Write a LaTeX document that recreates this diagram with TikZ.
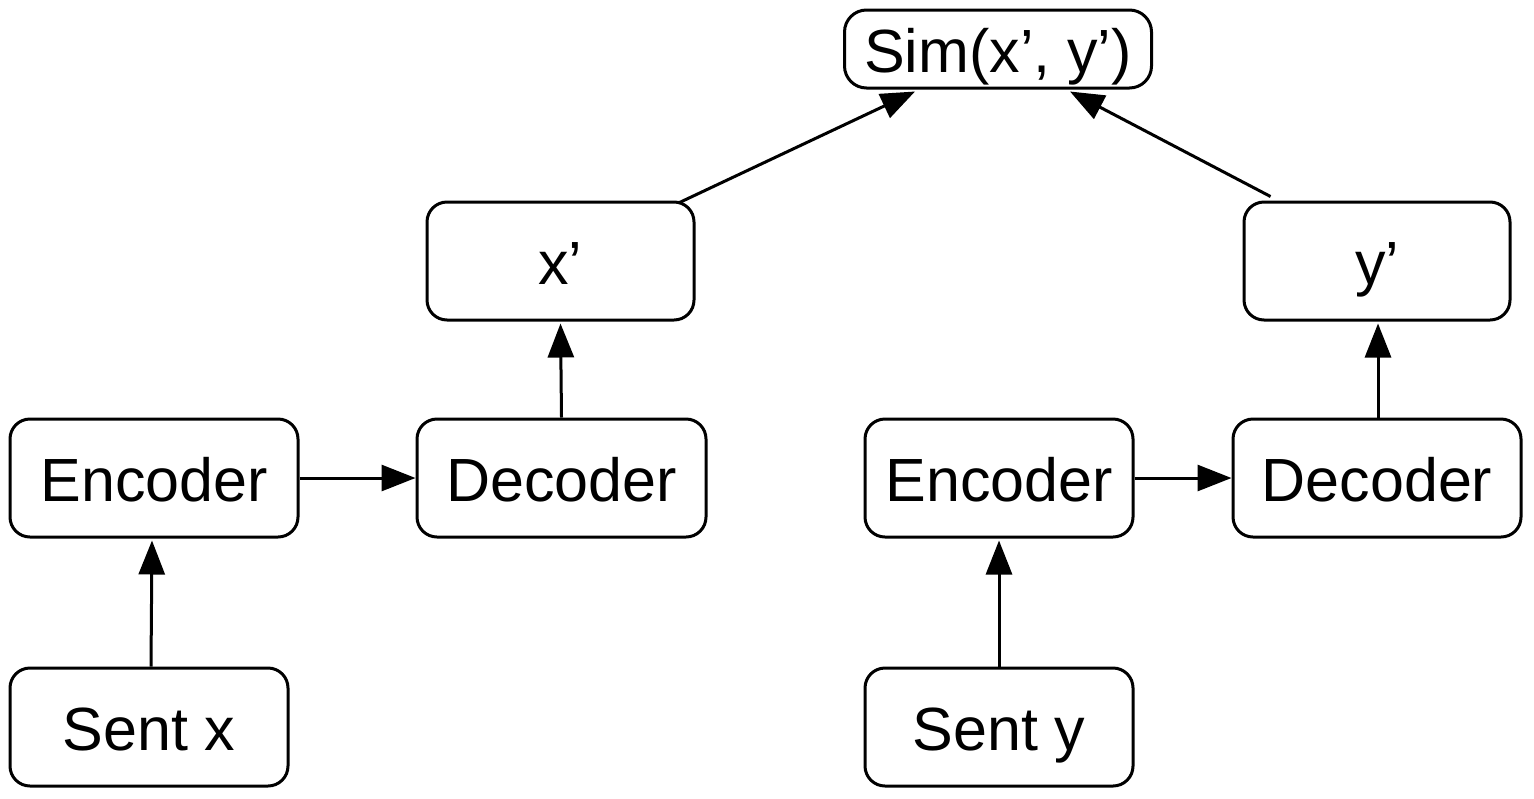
\documentclass[tikz,border=0pt]{standalone}
\usepackage{fontspec}
\setmainfont{Liberation Sans}
\usetikzlibrary{arrows.meta}
\begin{document}
\begin{tikzpicture}[x=0.5pt,y=-0.5pt,
  box/.style={draw, line width=1.5pt, rounded corners=10pt, inner sep=0pt,
    minimum height=59pt, text height=23.5pt, text depth=0pt,
    font=\fontsize{30.5}{33}\selectfont},
  arr/.style={line width=1.5pt, -{Triangle[length=17pt,width=13pt]}}]
\useasboundingbox (0,0) rectangle (1534,798);
\node[box, minimum width=153.5pt, minimum height=39pt, rounded corners=11pt] (sim) at (998,49) {Sim(x’, y’)};
\node[box, minimum width=133.5pt] (xp) at (560.5,261) {x’};
\node[box, minimum width=133pt] (yp) at (1377,261) {y’};
\node[box, minimum width=144pt] (encx) at (154,478) {Encoder};
\node[box, minimum width=144.5pt] (decx) at (561.5,478) {Decoder};
\node[box, minimum width=134pt] (ency) at (999,478) {Encoder};
\node[box, minimum width=144pt] (decy) at (1377,478) {Decoder};
\node[box, minimum width=139pt] (sentx) at (149,727) {Sent x};
\node[box, minimum width=134pt] (senty) at (999,727) {Sent y};

\draw[arr] ([xshift=1pt]sentx.north) -- ([xshift=-1pt,yshift=-1pt]encx.south);
\draw[arr] (encx.east) -- (decx.west);
\draw[arr] (decx.north) -- ([yshift=-1pt]xp.south);
\draw[arr] ([xshift=-8pt,yshift=-1pt]xp.north east) -- ([xshift=-41.5pt,yshift=-1pt]sim.south);
\draw[arr] (senty.north) -- ([yshift=-1pt]ency.south);
\draw[arr] (ency.east) -- (decy.west);
\draw[arr] ([xshift=0.5pt]decy.north) -- ([xshift=0.5pt,yshift=-1pt]yp.south);
\draw[arr] ([xshift=14pt,yshift=2pt]yp.north west) -- ([xshift=36pt,yshift=-1pt]sim.south);
\end{tikzpicture}
\end{document}
